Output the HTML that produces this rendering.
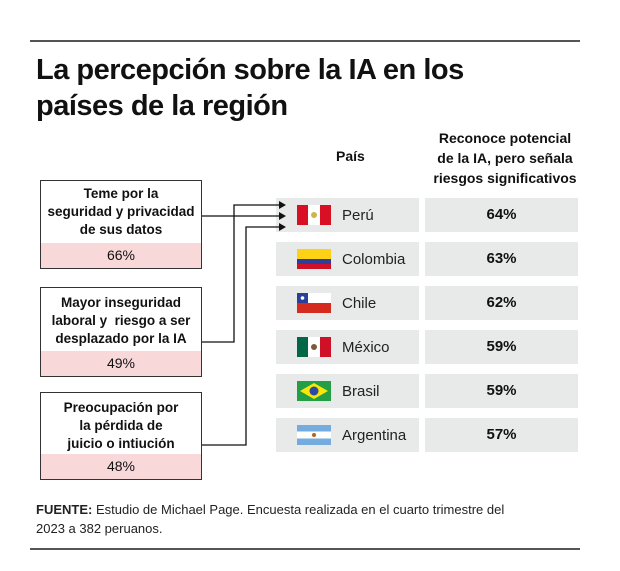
<!DOCTYPE html>
<html><head><meta charset="utf-8"><style>
body{margin:0;background:#fff;font-family:"Liberation Sans",sans-serif;color:#111}
#w{position:relative;width:620px;height:571px;overflow:hidden}
.a{position:absolute}
.box{position:absolute;left:40px;width:162px;border:1.5px solid #333;background:#fff;text-align:center;font-weight:bold;font-size:13.5px;line-height:18px;box-sizing:border-box}
.box .p{position:absolute;left:0;right:0;bottom:0;height:25px;background:#f9d8da;font-weight:normal;font-size:14px;line-height:25px}
.cell{position:absolute;background:#e8eaea;height:34px}
</style></head><body><div id="w">
<div class="a" style="left:30px;top:40px;width:550px;height:1.5px;background:#555"></div>
<div class="a" style="left:36px;top:52px;font-size:29px;font-weight:bold;line-height:36px;letter-spacing:-0.5px">La percepción sobre la IA en los<br>países de la región</div>
<div class="a" style="left:336px;top:148px;font-size:14px;font-weight:bold">País</div>
<div class="a" style="left:420px;top:128px;width:170px;text-align:center;font-size:14px;font-weight:bold;line-height:20px">Reconoce potencial<br>de la IA, pero señala<br>riesgos significativos</div>

<div class="box" style="top:180px;height:89px;padding-top:4px">Teme por la<br>seguridad y privacidad<br>de sus datos<div class="p">66%</div></div>
<div class="box" style="top:287px;height:90px;padding-top:6px">Mayor inseguridad<br>laboral y&nbsp; riesgo a ser<br>desplazado por la IA<div class="p">49%</div></div>
<div class="box" style="top:392px;height:88px;padding-top:6px">Preocupación por<br>la pérdida de<br>juicio o intiución<div class="p">48%</div></div>

<div id="rows"></div>

<svg class="a" style="left:0;top:0;z-index:5" width="620" height="571">
<g fill="none" stroke="#111" stroke-width="1.3">
<path d="M202,216H280"/>
<path d="M202,342H234V205H280"/>
<path d="M202,445H246V227H280"/>
</g>
<g fill="#111">
<path d="M279,212L286,216L279,220z"/>
<path d="M279,201L286,205L279,209z"/>
<path d="M279,223L286,227L279,231z"/>
</g></svg>

<div class="a" style="left:36px;top:500px;font-size:13px;line-height:19px;color:#222"><b>FUENTE:</b> Estudio de Michael Page. Encuesta realizada en el cuarto trimestre del<br>2023 a 382 peruanos.</div>
<div class="a" style="left:30px;top:548px;width:550px;height:1.5px;background:#555"></div>
</div>
<script>
const countries=["Perú","Colombia","Chile","México","Brasil","Argentina"];
const values=[64,63,62,59,59,57];
const flags={
"Perú":'<rect width="34" height="20" fill="#fff"/><rect width="11" height="20" fill="#d91023"/><rect x="23" width="11" height="20" fill="#d91023"/><circle cx="17" cy="10" r="3" fill="#c9b74a"/>',
"Colombia":'<rect width="34" height="10" fill="#fcd116"/><rect y="10" width="34" height="5" fill="#2e3c9a"/><rect y="15" width="34" height="5" fill="#ce1126"/>',
"Chile":'<rect width="34" height="10" fill="#fff"/><rect y="10" width="34" height="10" fill="#d52b1e"/><rect width="11" height="10" fill="#2a3f9a"/><circle cx="5.5" cy="5" r="1.8" fill="#fff"/>',
"México":'<rect width="34" height="20" fill="#fff"/><rect width="11" height="20" fill="#006847"/><rect x="23" width="11" height="20" fill="#ce1126"/><circle cx="17" cy="10" r="3" fill="#7a5a3a"/>',
"Brasil":'<rect width="34" height="20" fill="#229e45"/><path d="M17,2L31,10L17,18L3,10z" fill="#f8e509"/><circle cx="17" cy="10" r="4.5" fill="#2b49a3"/>',
"Argentina":'<rect width="34" height="20" fill="#fff"/><rect width="34" height="6.5" fill="#74acdf"/><rect y="13.5" width="34" height="6.5" fill="#74acdf"/><circle cx="17" cy="10" r="2" fill="#b5651d"/>'};
const y0=198,pitch=44;
function yPos(i){return y0+i*pitch;}
const root=document.getElementById('rows');
countries.forEach((c,i)=>{
 const y=yPos(i);
 const a=document.createElement('div');a.className='cell';
 
 
 a.style.cssText=`left:276px;top:${y}px;width:143px`;
 a.innerHTML=`<svg style="position:absolute;left:21px;top:7px" width="34" height="20">${flags[c]}</svg><span style="position:absolute;left:66px;top:9px;font-size:15px;color:#222">${c}</span>`;
 root.appendChild(a);
 const b=document.createElement('div');b.className='cell';
 
 
 b.style.cssText=`left:425px;top:${y}px;width:153px;text-align:center;font-weight:bold;font-size:15px;line-height:34px`;
 b.textContent=values[i]+'%';
 root.appendChild(b);
});
</script>
</body></html>
